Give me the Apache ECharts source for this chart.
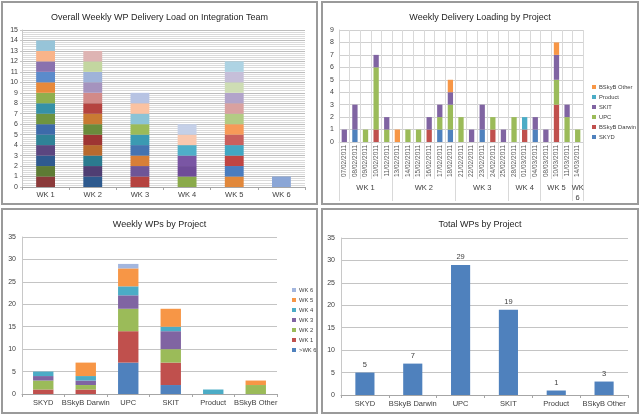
<!DOCTYPE html>
<html>
<head>
<meta charset="utf-8">
<script src="https://cdn.jsdelivr.net/npm/echarts@6/dist/echarts.min.js"></script>
<style>
  body { margin:0; width:640px; height:415px; background:#fff; position:relative; overflow:hidden; }
  .panel { position:absolute; box-sizing:border-box; border:2px solid #9a9a9a; background:#fff; }
  .chart { width:100%; height:100%; }
</style>
</head>
<body>
<div class="panel" style="left:1px;top:1px;width:317px;height:204px"><div class="chart" id="c1"></div></div>
<div class="panel" style="left:321px;top:1px;width:318px;height:204px"><div class="chart" id="c2"></div></div>
<div class="panel" style="left:1px;top:208px;width:317px;height:206px"><div class="chart" id="c3"></div></div>
<div class="panel" style="left:321px;top:208px;width:318px;height:206px"><div class="chart" id="c4"></div></div>
<script>
var FONT = '"Liberation Sans", Arial, sans-serif';

// overall weekly load
var weeks = ['WK 1', 'WK 2', 'WK 3', 'WK 4', 'WK 5', 'WK 6'];
var weekLoads = [14, 13, 9, 6, 12, 1];

// daily loading by project
var dates = ['07/02/2011', '08/02/2011', '09/02/2011', '10/02/2011', '11/02/2011',
  '13/02/2011', '14/02/2011', '15/02/2011', '16/02/2011', '17/02/2011', '18/02/2011',
  '21/02/2011', '22/02/2011', '23/02/2011', '24/02/2011', '25/02/2011',
  '28/02/2011', '01/03/2011', '04/03/2011',
  '08/03/2011', '10/03/2011', '11/03/2011',
  '14/03/2011'];
var daysPerWeek = [5, 6, 5, 3, 3, 1];
var weekRowLabels = ['WK 1', 'WK 2', 'WK 3', 'WK 4', 'WK 5', 'WK\n6'];

var projects = ['SKYD', 'BSkyB Darwin', 'UPC', 'SKIT', 'Product', 'BSkyB Other'];
var skydDaily    = [0,1,0,0,0, 0,0,0,0,1,1, 0,0,1,0,0, 0,0,1, 0,0,0, 0];
var darwinDaily  = [0,0,0,1,0, 0,0,0,1,0,0, 0,0,0,1,0, 0,1,0, 0,3,0, 0];
var upcDaily     = [0,0,1,5,1, 0,1,1,0,1,2, 2,0,0,1,0, 2,0,0, 0,2,2, 1];
var skitDaily    = [1,2,0,1,1, 0,0,0,1,1,1, 0,1,2,0,1, 0,0,1, 1,2,1, 0];
var productDaily = [0,0,0,0,0, 0,0,0,0,0,0, 0,0,0,0,0, 0,1,0, 0,0,0, 0];
var otherDaily   = [0,0,0,0,0, 1,0,0,0,0,1, 0,0,0,0,0, 0,0,0, 0,1,0, 0];

// weekly WPs by project (one array per week, values per project)
var weekSeriesNames = ['>WK 6', 'WK 1', 'WK 2', 'WK 3', 'WK 4', 'WK 5', 'WK 6'];
var wkPrev = [0, 0, 7, 2, 0, 0];
var wk1 = [1, 1, 7, 5, 0, 0];
var wk2 = [2, 1, 5, 3, 0, 2];
var wk3 = [1, 1, 3, 4, 0, 0];
var wk4 = [1, 1, 2, 1, 1, 0];
var wk5 = [0, 3, 4, 4, 0, 1];
var wk6 = [0, 0, 1, 0, 0, 0];

// totals
var totals = [5, 7, 29, 19, 1, 3];

// colours
var projectColors = ['#4F81BD', '#C0504D', '#9BBB59', '#8064A2', '#4BACC6', '#F79646'];
var weekColors = ['#4F81BD', '#C0504D', '#9BBB59', '#8064A2', '#4BACC6', '#F79646', '#A3B6DE'];
var loadColors = [
  ['#8B3A3A','#5E7B34','#2F5A8F','#5B4680','#2F8297','#3D6AAA','#6F9440','#3691A7','#8FAF4E','#E8893A','#5B8BCB','#8A72AE','#F9B48A','#97C4D8'],
  ['#2E5A8E','#4F3E73','#2B7B8F','#B86A2E','#9E3533','#6A8C3C','#C97A33','#B5433F','#D28A88','#A593BE','#9FB3D9','#C3D6A0','#DEB4B3'],
  ['#B5433F','#6E5597','#D77F38','#4573B0','#3B9AB2','#9BBB59','#8CC3D6','#FAC2A2','#B7C3E3'],
  ['#8AAA4A','#6F4C98','#7A56A4','#4FAFC9','#FAC8AE','#C5D0E8'],
  ['#E1883B','#4A7DC0','#C04543','#42A7C3','#C9605D','#F79A58','#B3CB84','#D9A1A0','#B2A4CA','#CEDDB4','#C6BFD9','#AED3E3'],
  ['#8BA6D6']
];

function titleOf(text) {
  return { text: text, left: 'center', top: 5,
    textStyle: { fontFamily: FONT, fontSize: 9, fontWeight: 'normal', color: '#262626' } };
}
function legendOf(names, left, top) {
  return {
    orient: 'vertical', left: left, top: top, itemGap: 4,
    itemWidth: 4, itemHeight: 4, icon: 'rect', data: names,
    textStyle: { fontFamily: FONT, fontSize: 5.8, color: '#404040', padding: [0, 0, 0, -2] }
  };
}
var labelStyle = { fontFamily: FONT, fontSize: 7.5, color: '#404040' };
var gridLine = { lineStyle: { color: '#c4c4c4', width: 1 } };
var axisGray = { lineStyle: { color: '#a6a6a6' } };

// 1. overall weekly load
var c1 = echarts.init(document.getElementById('c1'));
var maxLoad = Math.max.apply(null, weekLoads);
var loadSeries = [];
for (var k = 0; k < maxLoad; k++) {
  loadSeries.push({
    type: 'bar', stack: 'load', barWidth: '40%', silent: true,
    data: weekLoads.map(function (n, w) {
      return n > k ? { value: 1, itemStyle: { color: loadColors[w][k] } } : '-';
    })
  });
}
c1.setOption({
  animation: false,
  title: titleOf('Overall Weekly WP Delivery Load on Integration Team'),
  grid: { left: 19, right: 11, top: 27, bottom: 16 },
  xAxis: {
    type: 'category', data: weeks,
    axisLine: axisGray, axisTick: { show: true, length: 3, lineStyle: { color: '#a6a6a6' } },
    axisLabel: Object.assign({ margin: 4 }, labelStyle)
  },
  yAxis: {
    type: 'value', min: 0, max: 15, interval: 1,
    axisLine: { show: true, lineStyle: { color: '#c8c8c8' } },
    axisTick: { show: true, length: 2, lineStyle: { color: '#c8c8c8' } },
    axisLabel: Object.assign({ margin: 4 }, labelStyle, { fontSize: 7 }),
    splitLine: { lineStyle: { color: '#bdbdbd' } },
    minorTick: { show: false, splitNumber: 5 },
    minorSplitLine: { show: true, lineStyle: { color: '#dadada' } }
  },
  series: loadSeries
});

// 2. weekly delivery loading by project (daily)
var c2 = echarts.init(document.getElementById('c2'));
var weekSlots = [], weekBounds = {};
var pos = 0;
daysPerWeek.forEach(function (d, i) {
  weekBounds[pos] = true;
  for (var s = 0; s < 2 * d; s++) weekSlots.push(s === d ? weekRowLabels[i] : '');
  pos += 2 * d;
});
weekSlots.push('');
weekBounds[pos] = true;

var dailyData = [skydDaily, darwinDaily, upcDaily, skitDaily, productDaily, otherDaily];
c2.setOption({
  animation: false,
  title: titleOf('Weekly Delivery Loading by Project'),
  legend: legendOf(projects.slice().reverse(), 264, 76),
  grid: { left: 16, right: 54, top: 27, bottom: 59 },
  xAxis: [{
    type: 'category', data: dates,
    axisLine: { lineStyle: { color: '#d0d0d0' } },
    axisTick: { show: true, interval: 0, length: 37, lineStyle: { color: '#d9d9d9' } },
    axisLabel: Object.assign({ interval: 0, rotate: 90, margin: 3 }, labelStyle, { fontSize: 6.5, color: '#595959' }),
    splitLine: { show: true, interval: 0, lineStyle: { color: '#d9d9d9' } }
  }, {
    type: 'category', data: weekSlots, boundaryGap: false, position: 'bottom', offset: 37,
    axisLine: { show: false },
    axisTick: {
      show: true, length: 22, lineStyle: { color: '#d9d9d9' },
      interval: function (i) { return !!weekBounds[i]; }
    },
    axisLabel: Object.assign({ interval: 0, margin: 4, lineHeight: 10 }, labelStyle),
    splitLine: { show: false }
  }],
  yAxis: {
    type: 'value', min: 0, max: 9, interval: 1,
    axisLine: { show: true, lineStyle: { color: '#d0d0d0' } },
    axisTick: { show: false },
    axisLabel: Object.assign({ margin: 5 }, labelStyle, { fontSize: 7 }),
    splitLine: { lineStyle: { color: '#d0d0d0' } }
  },
  series: projects.map(function (p, i) {
    return { name: p, type: 'bar', stack: 'day', barWidth: '50%', xAxisIndex: 0,
      itemStyle: { color: projectColors[i] }, data: dailyData[i] };
  })
});

// 3. weekly WPs by project
var c3 = echarts.init(document.getElementById('c3'));
var weeklyData = [wkPrev, wk1, wk2, wk3, wk4, wk5, wk6];
c3.setOption({
  animation: false,
  title: titleOf('Weekly WPs by Project'),
  legend: legendOf(weekSeriesNames.slice().reverse(), 284, 72),
  grid: { left: 19, right: 39, top: 27, bottom: 18 },
  xAxis: {
    type: 'category', data: projects,
    axisLine: axisGray, axisTick: { show: true, length: 3, lineStyle: { color: '#a6a6a6' } },
    axisLabel: Object.assign({ interval: 0, margin: 5 }, labelStyle)
  },
  yAxis: {
    type: 'value', min: 0, max: 35, interval: 5,
    axisLine: { show: true, lineStyle: { color: '#c8c8c8' } },
    axisTick: { show: false },
    axisLabel: Object.assign({ margin: 6 }, labelStyle, { fontSize: 7 }),
    splitLine: gridLine
  },
  series: weekSeriesNames.map(function (n, i) {
    return { name: n, type: 'bar', stack: 'wk', barWidth: '48%',
      itemStyle: { color: weekColors[i] }, data: weeklyData[i] };
  })
});

// 4. total WPs by project
var c4 = echarts.init(document.getElementById('c4'));
c4.setOption({
  animation: false,
  title: titleOf('Total WPs by Project'),
  grid: { left: 18, right: 9, top: 28, bottom: 17 },
  xAxis: {
    type: 'category', data: projects,
    axisLine: axisGray, axisTick: { show: true, length: 3, lineStyle: { color: '#a6a6a6' } },
    axisLabel: Object.assign({ interval: 0, margin: 5 }, labelStyle)
  },
  yAxis: {
    type: 'value', min: 0, max: 35, interval: 5,
    axisLine: { show: true, lineStyle: { color: '#c8c8c8' } },
    axisTick: { show: false },
    axisLabel: Object.assign({ margin: 6 }, labelStyle, { fontSize: 7 }),
    splitLine: gridLine
  },
  series: [{
    type: 'bar', barWidth: '40%', data: totals,
    itemStyle: { color: '#4F81BD' },
    label: { show: true, position: 'top', distance: 4, fontFamily: FONT, fontSize: 7.5, color: '#404040' }
  }]
});
</script>
</body>
</html>
